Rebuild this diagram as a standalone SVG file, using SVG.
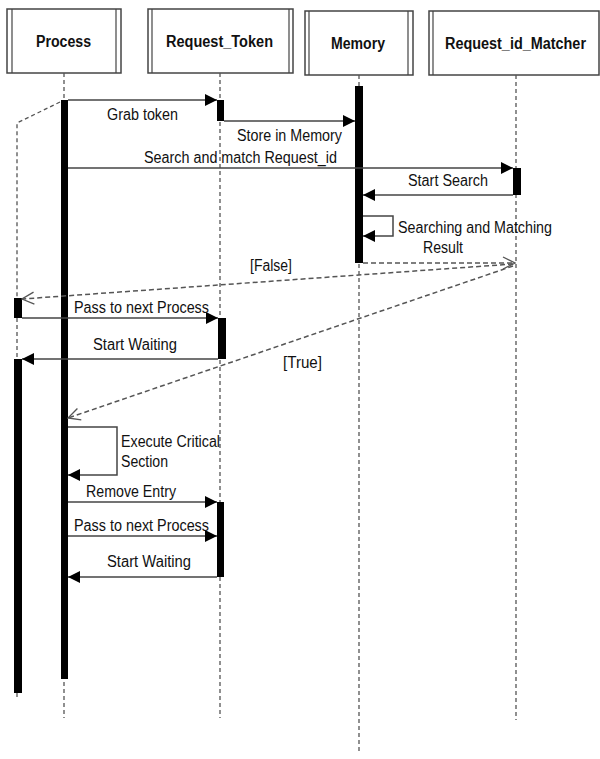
<svg xmlns="http://www.w3.org/2000/svg" width="600" height="759" viewBox="0 0 600 759">
<style>
.box{fill:#fff;stroke:#444;stroke-width:1.5}
.inner{stroke:#444;stroke-width:1.2}
.hdr{font-family:"Liberation Sans",Arial,sans-serif;font-size:16px;font-weight:bold;fill:#111}
.lbl{font-family:"Liberation Sans",Arial,sans-serif;font-size:16px;fill:#111}
.life{stroke:#555;stroke-width:1.3;stroke-dasharray:4 3;fill:none}
.bar{fill:#000}
.msg{stroke:#444;stroke-width:1.5;fill:none}
.ret{stroke:#555;stroke-width:1.5;stroke-dasharray:5 3;fill:none}
</style>
<defs>
<marker id="fill" markerUnits="userSpaceOnUse" markerWidth="12" markerHeight="12" refX="12" refY="6" orient="auto">
<path d="M0,0 L12,6 L0,12 z" fill="#000"/>
</marker>
<marker id="open" markerUnits="userSpaceOnUse" markerWidth="14" markerHeight="14" refX="13" refY="7" orient="auto">
<path d="M1,1 L13,7 L1,13" fill="none" stroke="#555" stroke-width="1.3"/>
</marker>
</defs>

<g id="process">
<rect class="box" x="7" y="9" width="114" height="64"/>
<line class="inner" x1="12" y1="9" x2="12" y2="73"/>
<line class="inner" x1="116" y1="9" x2="116" y2="73"/>
<text class="hdr" x="36" y="47" textLength="55" lengthAdjust="spacingAndGlyphs">Process</text>
<line class="life" x1="64" y1="73" x2="64" y2="718"/>
<rect class="bar" x="61" y="100" width="7" height="579"/>
</g>

<g id="request_token">
<rect class="box" x="148" y="9" width="145" height="64"/>
<line class="inner" x1="152" y1="9" x2="152" y2="73"/>
<line class="inner" x1="289" y1="9" x2="289" y2="73"/>
<text class="hdr" x="166" y="47" textLength="107" lengthAdjust="spacingAndGlyphs">Request_Token</text>
<line class="life" x1="220" y1="73" x2="220" y2="718"/>
<rect class="bar" x="217" y="100" width="7" height="21"/>
<rect class="bar" x="218" y="318" width="8" height="41"/>
<rect class="bar" x="217" y="502" width="7" height="75"/>
</g>

<g id="memory">
<rect class="box" x="305" y="11" width="108" height="64"/>
<line class="inner" x1="309" y1="11" x2="309" y2="75"/>
<line class="inner" x1="408" y1="11" x2="408" y2="75"/>
<text class="hdr" x="331" y="49" textLength="54" lengthAdjust="spacingAndGlyphs">Memory</text>
<line class="life" x1="359" y1="75" x2="359" y2="752"/>
<rect class="bar" x="355" y="86" width="8" height="177"/>
</g>

<g id="request_id_matcher">
<rect class="box" x="429" y="11" width="170" height="64"/>
<line class="inner" x1="433" y1="11" x2="433" y2="75"/>
<text class="hdr" x="445" y="49" textLength="141" lengthAdjust="spacingAndGlyphs">Request_id_Matcher</text>
<line class="life" x1="516" y1="75" x2="516" y2="720"/>
<rect class="bar" x="513" y="168" width="8" height="27"/>
</g>

<g id="next_process">
<polyline class="life" points="60,102 17,123 17,298"/>
<line class="life" x1="17" y1="318" x2="17" y2="359"/>
<line class="life" x1="17" y1="693" x2="17" y2="698"/>
<rect class="bar" x="14" y="298" width="8" height="20"/>
<rect class="bar" x="14" y="359" width="8" height="334"/>
</g>

<g id="connectors">
<line class="msg" x1="68" y1="100" x2="217" y2="100" marker-end="url(#fill)"/>
<line class="msg" x1="224" y1="121" x2="355" y2="121" marker-end="url(#fill)"/>
<line class="msg" x1="68" y1="168" x2="513" y2="168" marker-end="url(#fill)"/>
<line class="msg" x1="513" y1="195" x2="363" y2="195" marker-end="url(#fill)"/>
<polyline class="msg" points="363,216 393,216 393,236 363,236" marker-end="url(#fill)"/>
<line class="ret" x1="363" y1="263" x2="515" y2="263" marker-end="url(#open)"/>
<line class="ret" x1="513" y1="264" x2="22" y2="299" marker-end="url(#open)"/>
<line class="msg" x1="22" y1="318" x2="218" y2="318" marker-end="url(#fill)"/>
<line class="msg" x1="218" y1="359" x2="22" y2="359" marker-end="url(#fill)"/>
<line class="ret" x1="513" y1="266" x2="68" y2="418" marker-end="url(#open)"/>
<polyline class="msg" points="68,427 117,427 117,475 68,475" marker-end="url(#fill)"/>
<line class="msg" x1="68" y1="502" x2="217" y2="502" marker-end="url(#fill)"/>
<line class="msg" x1="68" y1="536" x2="217" y2="536" marker-end="url(#fill)"/>
<line class="msg" x1="217" y1="577" x2="68" y2="577" marker-end="url(#fill)"/>

<text class="lbl" x="107" y="120" textLength="71" lengthAdjust="spacingAndGlyphs">Grab token</text>
<text class="lbl" x="237" y="141" textLength="105" lengthAdjust="spacingAndGlyphs">Store in Memory</text>
<text class="lbl" x="144" y="163" textLength="193" lengthAdjust="spacingAndGlyphs">Search and match Request_id</text>
<text class="lbl" x="408" y="186" textLength="80" lengthAdjust="spacingAndGlyphs">Start Search</text>
<text class="lbl" x="398" y="233" textLength="154" lengthAdjust="spacingAndGlyphs">Searching and Matching</text>
<text class="lbl" x="423" y="253" textLength="40" lengthAdjust="spacingAndGlyphs">Result</text>
<text class="lbl" x="250" y="271" textLength="42" lengthAdjust="spacingAndGlyphs">[False]</text>
<text class="lbl" x="74" y="313" textLength="135" lengthAdjust="spacingAndGlyphs">Pass to next Process</text>
<text class="lbl" x="93" y="350" textLength="84" lengthAdjust="spacingAndGlyphs">Start Waiting</text>
<text class="lbl" x="283" y="368" textLength="39" lengthAdjust="spacingAndGlyphs">[True]</text>
<text class="lbl" x="121" y="447" textLength="99" lengthAdjust="spacingAndGlyphs">Execute Critical</text>
<text class="lbl" x="121" y="467" textLength="47" lengthAdjust="spacingAndGlyphs">Section</text>
<text class="lbl" x="86" y="497" textLength="90" lengthAdjust="spacingAndGlyphs">Remove Entry</text>
<text class="lbl" x="74" y="531" textLength="135" lengthAdjust="spacingAndGlyphs">Pass to next Process</text>
<text class="lbl" x="107" y="567" textLength="84" lengthAdjust="spacingAndGlyphs">Start Waiting</text>
</g>
</svg>
